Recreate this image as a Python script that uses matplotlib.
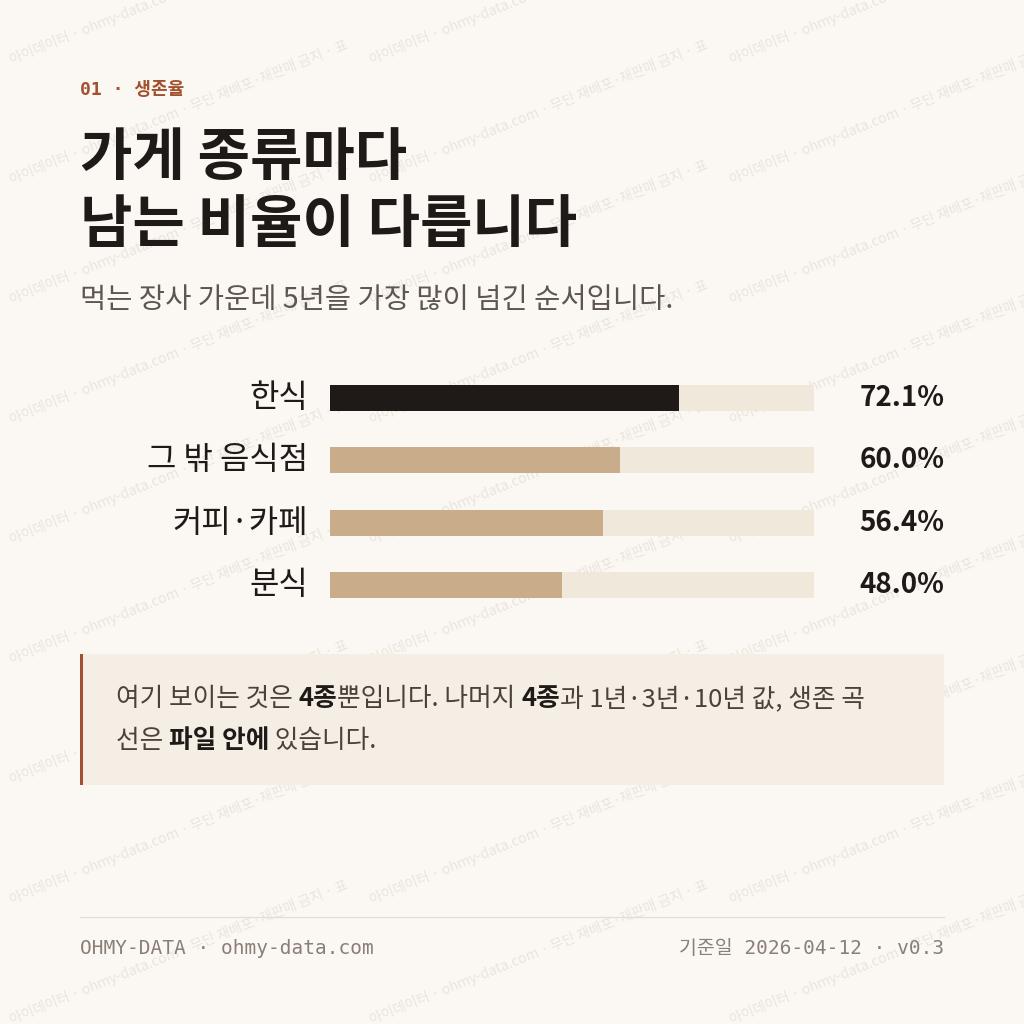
import matplotlib.pyplot as plt
from matplotlib.patches import Rectangle

KR = ["Noto Sans CJK KR", "DejaVu Sans"]
MONO = ["DejaVu Sans Mono", "Noto Sans CJK KR"]

categories = ["한식", "그 밖 음식점", "커피·카페", "분식"]
rates = [72.1, 60.0, 56.4, 48.0]
labels = ["72.1%", "60.0%", "56.4%", "48.0%"]

BG = "#FBF8F3"
DARK = "#1F1A17"
TAN = "#C9AD8B"
TRACK = "#F1E8DC"
ACCENT = "#A3502F"
MUTED = "#8A7F76"

fig = plt.figure(figsize=(10.24, 10.24), dpi=100, facecolor=BG)
ax = fig.add_axes([0, 0, 1, 1])
ax.set_xlim(0, 1024)
ax.set_ylim(1024, 0)
ax.axis("off")

# watermark
wm = "아이데이터 · ohmy-data.com · 무단 재배포·재판매 금지 · 표"
for row in range(0, 9):
    for col in range(0, 3):
        x = col * 360 + 10
        y = row * 120 + 60
        ax.text(x, y, wm, rotation=22, fontsize=10, color="#D9D0C6", alpha=0.5,
                family=KR, ha="left", va="center", rotation_mode="anchor",
                zorder=0, clip_on=True)

ax.text(80, 90, "01 · 생존율", family=MONO, fontsize=13, color=ACCENT,
        fontweight="bold", va="center")
ax.text(80, 158, "가게 종류마다", family=KR, fontsize=41, fontweight="bold",
        color=DARK, va="center")
ax.text(80, 225, "남는 비율이 다릅니다", family=KR, fontsize=41, fontweight="bold",
        color=DARK, va="center")
ax.text(80, 300, "먹는 장사 가운데 5년을 가장 많이 넘긴 순서입니다.", family=KR,
        fontsize=20.5, color="#5E5550", va="center")

# bars
bx = fig.add_axes([330 / 1024, 1 - 616 / 1024, 484 / 1024, (616 - 367) / 1024])
bx.set_xlim(0, 100)
bx.set_ylim(len(categories) - 0.5, -0.5)
bx.axis("off")
ys = list(range(len(categories)))
bx.barh(ys, [100] * len(ys), height=0.42, color=TRACK)
bx.barh(ys, rates, height=0.42, color=[DARK] + [TAN] * (len(ys) - 1))
for y, c, l in zip(ys, categories, labels):
    bx.text(-4.5, y, c, family=KR, fontsize=23, color=DARK, ha="right", va="center")
    bx.text(127, y, l, family=KR, fontsize=20, fontweight="bold", color=DARK,
            ha="right", va="center")

# callout
ax.add_patch(Rectangle((80, 654), 864, 131, facecolor="#F5EEE4", edgecolor="none"))
ax.add_patch(Rectangle((80, 654), 3, 131, facecolor=ACCENT, edgecolor="none"))
fig.canvas.draw()
r = fig.canvas.get_renderer()
lines = [
    [("여기 보이는 것은 ", False), ("4종", True), ("뿐입니다. 나머지 ", False), ("4종", True),
     ("과 1년·3년·10년 값, 생존 곡", False)],
    [("선은 ", False), ("파일 안에", True), (" 있습니다.", False)],
]
inv = ax.transData.inverted()
for i, parts in enumerate(lines):
    x = 116
    y = 699 + i * 42
    for s, b in parts:
        t = ax.text(x, y, s, family=KR, fontsize=18.5, color=DARK if b else "#4A423D",
                    fontweight="bold" if b else "normal", va="center")
        bb = t.get_window_extent(r)
        x = inv.transform((bb.x1, bb.y0))[0]

ax.plot([80, 944], [917, 917], color="#E6DED4", lw=1)
ax.text(80, 948, "OHMY-DATA · ohmy-data.com", family=MONO, fontsize=14,
        color=MUTED, va="center")
ax.text(944, 948, "기준일 2026-04-12 · v0.3", family=MONO, fontsize=14,
        color=MUTED, va="center", ha="right")

fig.savefig("out.png", dpi=100, facecolor=BG)
